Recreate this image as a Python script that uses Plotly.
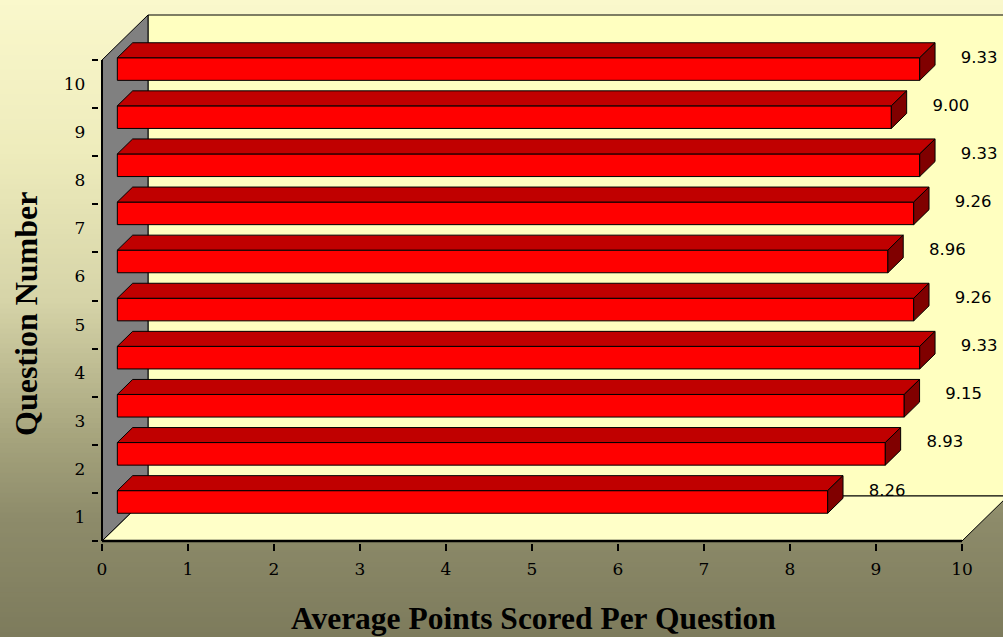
import plotly.graph_objects as go
import numpy as np

# ---------------- data ----------------
questions = [1, 2, 3, 4, 5, 6, 7, 8, 9, 10]
avg_points = [8.26, 8.93, 9.15, 9.33, 9.26, 8.96, 9.26, 9.33, 9.00, 9.33]
x_ticks = list(range(0, 11))
y_tick_labels = [str(q) for q in questions]
x_title = "Average Points Scored Per Question"
y_title = "Question Number"

# ---------------- geometry (pixels -> data) ----------------
W, H = 1003, 637
X0PX, XSCALE = 102, 86.0      # pixel of x=0, px per unit
Y0PX, YSCALE = 541, 48.1      # pixel of y=0, px per unit
xmin = -0.03
xmax = (W - X0PX) / XSCALE
ymin = -0.05
ymax = (Y0PX - 5) / YSCALE

DX = 46 / XSCALE   # 3D depth offset in x units
DY = 45 / YSCALE   # 3D depth offset in y units
f1, f2 = 1 / 3, 2 / 3   # bar front/back depth fractions
hw = 0.235              # half bar thickness
LBL_DX, LBL_DY = 0.87, 0.53

centers = [q - 0.5 for q in questions]

fig = go.Figure()

# front faces of bars
fig.add_trace(go.Bar(
    orientation="h",
    x=avg_points,
    y=[c + f1 * DY for c in centers],
    base=f1 * DX,
    width=2 * hw,
    marker=dict(color="#FF0000", line=dict(color="black", width=1)),
    hoverinfo="skip", showlegend=False,
))

# top faces and side faces
top_x, top_y, side_x, side_y = [], [], [], []
for c, v in zip(centers, avg_points):
    yf = c + f1 * DY + hw
    yb = c + f2 * DY + hw
    top_x += [f1 * DX, v + f1 * DX, v + f2 * DX, f2 * DX, f1 * DX, None]
    top_y += [yf, yf, yb, yb, yf, None]
    side_x += [v + f1 * DX, v + f1 * DX, v + f2 * DX, v + f2 * DX, v + f1 * DX, None]
    side_y += [c + f1 * DY - hw, c + f1 * DY + hw, c + f2 * DY + hw, c + f2 * DY - hw, c + f1 * DY - hw, None]

fig.add_trace(go.Scatter(x=top_x, y=top_y, mode="lines", fill="toself",
                         fillcolor="#C00000", line=dict(color="black", width=1),
                         hoverinfo="skip", showlegend=False))
fig.add_trace(go.Scatter(x=side_x, y=side_y, mode="lines", fill="toself",
                         fillcolor="#800000", line=dict(color="black", width=1),
                         hoverinfo="skip", showlegend=False))

# data labels
fig.add_trace(go.Scatter(
    x=[v + LBL_DX for v in avg_points],
    y=[c + LBL_DY for c in centers],
    mode="text",
    text=[f"{v:.2f}" for v in avg_points],
    textposition="middle center",
    textfont=dict(family="DejaVu Sans", size=16.5, color="black"),
    cliponaxis=False, hoverinfo="skip", showlegend=False,
))

shapes = []
# background gradient (paper)
stops = [(0, (250, 248, 204)), (150, (238, 236, 188)), (300, (214, 212, 168)),
         (440, (165, 163, 124)), (520, (141, 139, 106)), (637, (125, 123, 92))]
sp = np.array([s[0] for s in stops], dtype=float)
sc = np.array([s[1] for s in stops], dtype=float)
N = 128
for i in range(N):
    ypx = (i + 0.5) * H / N
    col = [int(round(np.interp(ypx, sp, sc[:, k]))) for k in range(3)]
    shapes.append(dict(type="rect", xref="paper", yref="paper",
                       x0=-0.01, x1=1.01, y0=1 - (i + 1) / N - 0.002, y1=1 - i / N,
                       fillcolor=f"rgb({col[0]},{col[1]},{col[2]})",
                       line=dict(width=0), layer="below"))


def path(pts):
    return "M " + " L ".join(f"{x},{y}" for x, y in pts) + " Z"


# back wall
shapes.append(dict(type="path", xref="x", yref="y", layer="below",
                   path=path([(DX, DY), (10 + DX, DY), (10 + DX, 10 + DY), (DX, 10 + DY)]),
                   fillcolor="#FFFFC0", line=dict(color="black", width=1)))
# floor
shapes.append(dict(type="path", xref="x", yref="y", layer="below",
                   path=path([(0, 0), (10, 0), (10 + DX, DY), (DX, DY)]),
                   fillcolor="#FFFFC8", line=dict(color="black", width=1)))
# left wall
shapes.append(dict(type="path", xref="x", yref="y", layer="below",
                   path=path([(0, 0), (0, 10), (DX, 10 + DY), (DX, DY)]),
                   fillcolor="#808080", line=dict(color="black", width=1)))
# axis lines
shapes.append(dict(type="line", xref="x", yref="y", x0=0, x1=10, y0=0, y1=0,
                   line=dict(color="black", width=2.5), layer="above"))
shapes.append(dict(type="line", xref="x", yref="y", x0=0, x1=0, y0=0, y1=10,
                   line=dict(color="black", width=2), layer="above"))

annotations = [
    dict(text=f"<b>{x_title}</b>", xref="paper", yref="paper",
         x=533 / W, y=1 - 618 / H, xanchor="center", yanchor="middle",
         showarrow=False, font=dict(family="Liberation Serif", size=31.5, color="black")),
    dict(text=f"<b>{y_title}</b>", xref="paper", yref="paper",
         x=26 / W, y=1 - 314 / H, xanchor="center", yanchor="middle", textangle=-90,
         showarrow=False, font=dict(family="Liberation Serif", size=32, color="black")),
]

fig.update_layout(
    width=W, height=H, autosize=False,
    margin=dict(l=0, r=0, t=0, b=0, pad=0, autoexpand=False),
    paper_bgcolor="rgba(0,0,0,0)", plot_bgcolor="rgba(0,0,0,0)",
    shapes=shapes, annotations=annotations, showlegend=False,
    bargap=0,
    xaxis=dict(
        domain=[(X0PX + xmin * XSCALE) / W, 1.0],
        range=[xmin, xmax], tickmode="array", tickvals=x_ticks,
        ticktext=[str(t) for t in x_ticks],
        ticks="outside", ticklen=7, tickwidth=2, tickcolor="black",
        ticklabelstandoff=3, automargin=False,
        tickfont=dict(family="DejaVu Serif", size=17, color="black"),
        showgrid=False, zeroline=False, showline=False, fixedrange=True,
    ),
    yaxis=dict(
        domain=[(H - (Y0PX - ymin * YSCALE)) / H, (H - 5) / H],
        range=[ymin, ymax], tickmode="array", tickvals=centers,
        ticktext=y_tick_labels, ticks="",
        ticklabelstandoff=13, automargin=False,
        minor=dict(tickmode="array", tickvals=list(range(0, 11)), ticks="outside",
                   ticklen=6, tickwidth=2, tickcolor="black", showgrid=False),
        tickfont=dict(family="DejaVu Serif", size=17, color="black"),
        showgrid=False, zeroline=False, showline=False, fixedrange=True,
    ),
)

fig.write_html(
    "out.html",
    config={"displayModeBar": False, "staticPlot": True},
    post_script="document.documentElement.style.margin='0';"
                "document.body.style.margin='0';document.body.style.padding='0';"
                "document.body.style.overflow='hidden';"
                "document.documentElement.style.overflow='hidden';"
                "var d=document.getElementsByClassName('plotly-graph-div')[0];"
                "d.style.position='absolute';d.style.left='0px';d.style.top='0px';",
)
